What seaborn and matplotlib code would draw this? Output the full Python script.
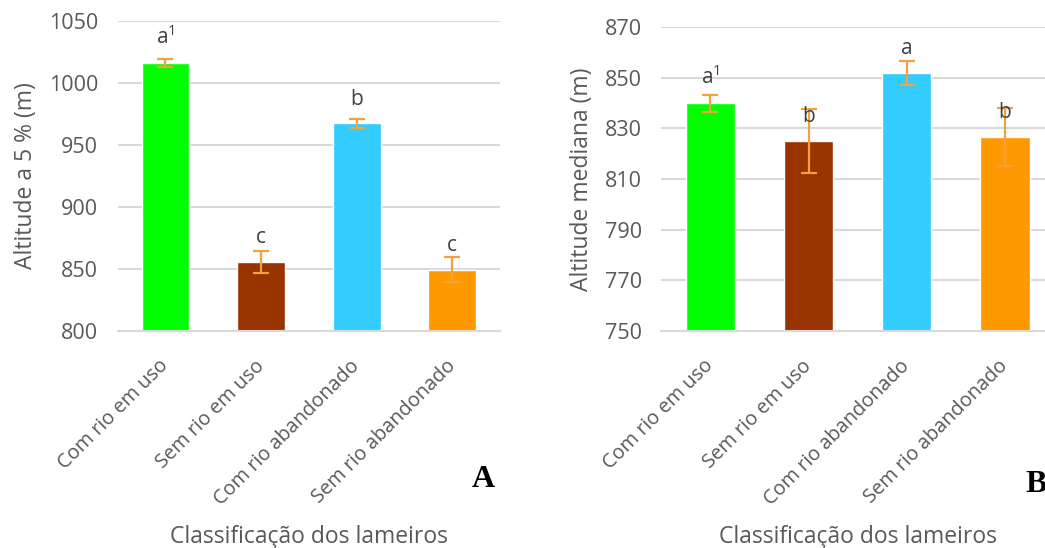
import matplotlib
matplotlib.use("Agg")
import matplotlib.pyplot as plt
import seaborn as sns
import pandas as pd

categories = ["Com rio em uso", "Sem rio em uso", "Com rio abandonado", "Sem rio abandonado"]
colors = ["#00ff00", "#993300", "#33ccff", "#ff9900"]

alt5_values = [1016, 855.5, 967.5, 849.5]
alt5_errors = [3.2, 9.0, 3.5, 10.0]
alt5_letters = ["a$^{1}$", "c", "b", "c"]
alt5_ticks = [800, 850, 900, 950, 1000, 1050]

altmed_values = [840, 825, 852, 826.7]
altmed_errors = [3.4, 12.7, 4.8, 11.4]
altmed_letters = ["a$^{1}$", "b", "a", "b"]
altmed_ticks = [750, 770, 790, 810, 830, 850, 870]

sns.set_theme(style="white")
plt.rcParams["font.family"] = ["Open Sans", "DejaVu Sans"]
plt.rcParams["mathtext.fontset"] = "custom"
plt.rcParams["mathtext.rm"] = "Open Sans"

TXT = "#595959"
GRID = "#d9d9d9"
ERR = "#f2a23a"

fig = plt.figure(figsize=(10.45, 5.48), dpi=100)
axA = fig.add_axes([0.1126, 0.396, 0.366, 0.5657])
axB = fig.add_axes([0.6328, 0.396, 0.3759, 0.5543])


def panel(ax, values, errors, letters, yticks, ylabel, xlabel_y):
    df = pd.DataFrame({"cat": categories, "val": values})
    sns.barplot(data=df, x="cat", y="val", hue="cat", palette=colors,
                width=0.5, legend=False, ax=ax, saturation=1, zorder=2)
    ax.errorbar(range(len(values)), values, yerr=errors, fmt="none",
                ecolor=ERR, elinewidth=1.6, capsize=6, capthick=1.6, zorder=3)
    ax.set_ylim(yticks[0], yticks[-1])
    ax.set_xlim(-0.5, 3.5)
    ax.set_yticks(yticks)
    ax.set_yticklabels([str(t) for t in yticks], fontsize=15.5, color=TXT)
    ax.yaxis.grid(True, color=GRID, linewidth=1.5, zorder=0)
    ax.set_axisbelow(True)
    for s in ["top", "right", "left"]:
        ax.spines[s].set_visible(False)
    ax.spines["bottom"].set_color(GRID)
    ax.spines["bottom"].set_linewidth(1.5)
    ax.tick_params(axis="both", length=0, colors=TXT)
    ax.tick_params(axis="y", pad=14)
    ax.set_xticks(range(len(categories)))
    ax.set_xticklabels(categories, rotation=45, ha="right", va="center",
                       rotation_mode="anchor", fontsize=14.3, color=TXT)
    ax.tick_params(axis="x", pad=23)
    ax.set_ylabel(ylabel, fontsize=16.5, color=TXT, labelpad=8)
    ax.set_xlabel("Classificação dos lameiros", fontsize=16.5, color=TXT, va="center")
    ax.xaxis.set_label_coords(0.5, xlabel_y)
    for i, (v, l) in enumerate(zip(values, letters)):
        ax.annotate(l, xy=(i, v), xytext=(0, 13.5), textcoords="offset points",
                    ha="center", va="baseline", fontsize=15, color="#404040", zorder=4)


panel(axA, alt5_values, alt5_errors, alt5_letters, alt5_ticks, "Altitude a 5 % (m)", -0.665)
panel(axB, altmed_values, altmed_errors, altmed_letters, altmed_ticks, "Altitude mediana (m)", -0.678)

fig.text(0.451, 0.112, "A", fontsize=23, fontweight="bold",
         family=["Liberation Serif", "DejaVu Serif"], color="black")
fig.text(0.981, 0.102, "B", fontsize=23, fontweight="bold",
         family=["Liberation Serif", "DejaVu Serif"], color="black")

fig.savefig("out.png", dpi=100)
